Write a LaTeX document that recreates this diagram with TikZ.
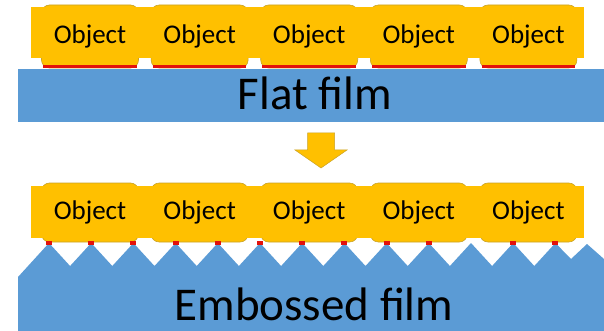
\documentclass[tikz,border=0pt]{standalone}
\usepackage{fontspec}
\setmainfont{Carlito}
\usetikzlibrary{positioning}

\definecolor{objorange}{HTML}{FFC000}
\definecolor{objedge}{HTML}{C9A227}
\definecolor{filmblue}{HTML}{5B9BD5}
\definecolor{glue}{HTML}{E3120B}

\tikzset{
  objbox/.style={rectangle, rounded corners=8pt, fill=objorange, draw=objedge,
                 line width=0.6pt, minimum width=97pt, inner sep=0pt},
  objlabel/.style={font=\fontsize{27}{30}\selectfont, inner sep=0pt},
  filmlabel/.style={font=\fontsize{47}{50}\selectfont, inner sep=0pt, anchor=base},
  glueline/.style={glue, line width=3pt},
  downarrow/.style={fill=objorange, draw=objedge, line width=0.5pt}
}

\begin{document}
\begin{tikzpicture}[x=1pt, y=-1pt, node distance=12pt]
  \useasboundingbox (0,0) rectangle (604,331);

  %--- Flat film with objects
  \node[objbox, minimum height=63pt] (t1) at (90,36.5) {};
  \node[objbox, minimum height=63pt, right=of t1] (t2) {};
  \node[objbox, minimum height=63pt, right=of t2] (t3) {};
  \node[objbox, minimum height=63pt, right=of t3] (t4) {};
  \node[objbox, minimum height=63pt, right=of t4] (t5) {};

  \foreach \o in {t1,t2,t3,t4,t5}
    \draw[glueline] ([xshift=2pt,yshift=1.5pt]\o.south west) -- ([xshift=-2pt,yshift=1.5pt]\o.south east);

  \fill[objorange] (31,7) rectangle (584,58);

  \foreach \o in {t1,t2,t3,t4,t5}
    \node[objlabel] at (\o) {Object};

  \fill[filmblue] (18,69) rectangle (604,122);
  \node[filmlabel] (flat) at (315,110) {Flat film};

  %--- Arrow
  \coordinate (step) at (321,133);
  \draw[downarrow] (step) -- ++(-13.5,0) -- ++(0,17) -- ++(-12.5,0) -- ++(26,18)
    -- ++(26,-18) -- ++(-12.5,0) -- ++(0,-17) -- cycle;

  %--- Embossed film with objects
  \node[objbox, minimum height=59pt] (b1) at (90,212.5) {};
  \node[objbox, minimum height=59pt, right=of b1] (b2) {};
  \node[objbox, minimum height=59pt, right=of b2] (b3) {};
  \node[objbox, minimum height=59pt, right=of b3] (b4) {};
  \node[objbox, minimum height=59pt, right=of b4] (b5) {};

  \fill[objorange] (31,186) rectangle (584,238);

  \foreach \o in {b1,b2,b3,b4,b5}
    \node[objlabel] at (\o) {Object};

  \fill[filmblue] (18,331) -- (18,277)
    \foreach \k in {0,...,11}{ -- ({49+42.2*\k},243) -- ({70.1+42.2*\k},266) }
    -- (555.4,243) -- (571,259) -- (587,244) -- (604,259) -- (604,331) -- cycle;

  % contact points
  \foreach \k in {0,...,9,11,12}
    \fill[glue] ({46+42.2*\k},241) rectangle +(6,4);

  \node[filmlabel] (emb) at (314,320) {Embossed film};
\end{tikzpicture}
\end{document}
